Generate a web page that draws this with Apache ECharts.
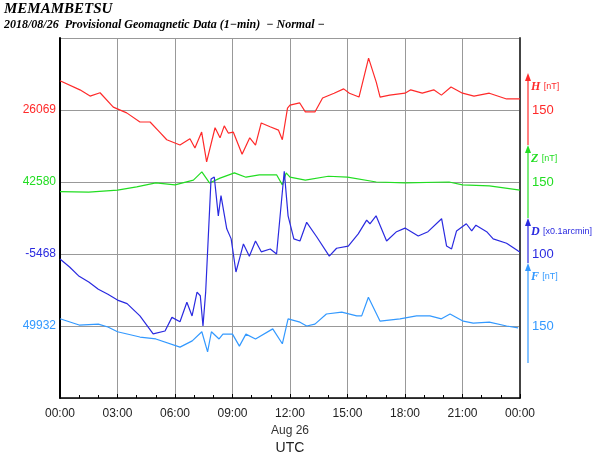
<!DOCTYPE html>
<html>
<head>
<meta charset="utf-8">
<script src="https://cdn.jsdelivr.net/npm/echarts@6/dist/echarts.min.js"></script>
<style>
  html, body { margin: 0; padding: 0; background: #fff; }
  #main { width: 600px; height: 457px; }
</style>
</head>
<body>
<div id="main"></div>
<script>
// hours UTC, deviation from baseline (nT, D in 0.1 arcmin)
var hData = [[0,61],[1.04,42],[1.57,29],[2.09,36],[2.78,6],[3.48,-6],[4.17,-25],[4.7,-25],[5.2,-46],[5.57,-62],[6.26,-73],[6.78,-60],[7.04,-79],[7.39,-46],[7.65,-108],[8.09,-37],[8.35,-58],[8.57,-33],[8.78,-48],[9.04,-46],[9.5,-92],[9.9,-58],[10.2,-73],[10.5,-27],[10.96,-35],[11.4,-42],[11.6,-62],[11.87,4],[12,10],[12.5,15],[12.8,-4],[13.3,-4],[13.7,25],[14.3,35],[14.8,44],[15.1,35],[15.6,27],[16.1,108],[16.5,58],[16.7,27],[17.2,31],[18,35],[18.3,42],[18.9,35],[19.5,42],[19.9,31],[20.4,48],[21,35],[21.6,29],[22.4,35],[23.3,23],[24,23]];
var zData = [[0,-20],[1.5,-21],[3,-17],[4,-10],[5,-2],[6,-6],[6.96,4],[7.4,21],[7.8,-2],[8.35,8],[9.1,19],[9.7,10],[10.4,15],[11.3,15],[11.6,-6],[11.8,19],[12,10],[12.8,4],[14,12],[15,10],[16.5,0],[18,-2],[20.3,0],[21,-6],[22.4,-8],[24,-17]];
var dData = [[0,-7],[0.5,-18],[1,-31],[1.5,-39],[2,-49],[2.5,-56],[3,-64],[3.5,-69],[4.17,-86],[4.86,-111],[5.48,-107],[5.84,-88],[6.26,-94],[6.62,-67],[6.89,-86],[7.15,-53],[7.32,-58],[7.46,-100],[7.6,-53],[7.88,104],[8.05,107],[8.26,53],[8.4,81],[8.7,35],[8.93,21],[9.18,-25],[9.36,-7],[9.57,14],[9.88,-3],[10.2,18],[10.5,3],[10.97,7],[11.3,0],[11.7,115],[11.9,53],[12.2,21],[12.52,18],[12.87,44],[13.39,24],[14.05,-3],[14.43,8],[15.04,11],[15.56,28],[16.0,47],[16.17,42],[16.49,53],[17.04,18],[17.56,31],[18,36],[18.69,25],[19.2,31],[19.91,49],[20.17,11],[20.43,7],[20.69,32],[21.2,42],[21.48,32],[21.7,40],[22.26,31],[22.6,21],[23.3,15],[23.91,4],[24,3]];
var fData = [[0,15],[1,2],[2,4],[2.5,-2],[3,-12],[4.17,-23],[5,-27],[6.26,-44],[6.9,-31],[7.4,-12],[7.7,-54],[7.9,-12],[8.3,-27],[8.5,-17],[9,-17],[9.36,-42],[9.7,-17],[10.2,-27],[11.1,-6],[11.6,-37],[11.9,15],[12.52,8],[12.87,0],[13.3,4],[13.9,25],[14.7,29],[15.48,21],[15.74,21],[16.09,60],[16.7,10],[17.74,15],[18.6,21],[19.3,21],[19.9,15],[20.35,25],[21.04,10],[21.56,6],[22.4,8],[23.3,0],[23.9,-4]];

var baseLabels = ['', '49932', '-5468', '42580', '26069', ''];
var scaleLabels = ['', '150', '100', '150', '150', ''];
var bandColors = ['#000', '#3399ff', '#2a2ae0', '#22dd22', '#ff2a2a', '#000'];
var bandScale = [1, 150, 100, 150, 150, 1];
var xTicks = ['00:00','03:00','06:00','09:00','12:00','15:00','18:00','21:00','00:00'];

function place(data, level) {
  return data.map(function (p) { return [p[0], level + p[1] / bandScale[level]]; });
}
function line(name, data, level) {
  return {
    name: name, type: 'line', showSymbol: false, animation: false,
    data: place(data, level),
    lineStyle: { color: bandColors[level], width: 1.2 }
  };
}
function rich() {
  var r = {};
  bandColors.forEach(function (c, i) { r['c' + i] = { color: c, fontSize: 12, fontFamily: 'Liberation Sans' }; });
  return r;
}

var chart = echarts.init(document.getElementById('main'));
var sans = 'Liberation Sans';
var serif = 'Liberation Serif';
var arrows = [[73, 145, 4], [145, 218, 3], [218, 263, 2], [263, 363, 1]];
var graphics = [
  { type: 'text', left: 4, top: 2, style: { text: 'MEMAMBETSU', font: 'italic bold 15px "Liberation Serif"', fill: '#000' } },
  { type: 'text', left: 4, top: 19, style: { text: '2018/08/26  Provisional Geomagnetic Data (1\u2212min)  \u2212 Normal \u2212', font: 'italic bold 12px "Liberation Serif"', fill: '#000' } },
  { type: 'text', x: 290, y: 425, style: { text: 'Aug 26', font: '12px "Liberation Sans"', fill: '#333', align: 'center' } },
  { type: 'text', x: 290, y: 441, style: { text: 'UTC', font: '14px "Liberation Sans"', fill: '#222', align: 'center' } }
];
var names = { 4: 'H', 3: 'Z', 2: 'D', 1: 'F' };
var units = { 4: '[nT]', 3: '[nT]', 2: '[x0.1arcmin]', 1: '[nT]' };
arrows.forEach(function (a) {
  var c = bandColors[a[2]];
  graphics.push({ type: 'line', shape: { x1: 528, y1: a[1], x2: 528, y2: a[0] + 4 }, style: { stroke: c, lineWidth: 1.2 } });
  graphics.push({ type: 'polygon', shape: { points: [[528, a[0]], [525, a[0] + 8], [531, a[0] + 8]] }, style: { fill: c } });
  graphics.push({ type: 'text', x: 531, y: a[0] + 8, style: {
    text: '{n|' + names[a[2]] + '} {u|' + units[a[2]] + '}',
    rich: {
      n: { font: 'italic bold 12px "Liberation Serif"', fill: c },
      u: { font: '9px "Liberation Sans"', fill: c }
    }
  } });
});

chart.setOption({
  backgroundColor: '#fff',
  animation: false,
  grid: { left: 60, right: 80, top: 38, bottom: 59 },
  graphic: graphics,
  xAxis: {
    type: 'value', min: 0, max: 24, interval: 3,
    axisLine: { show: true, lineStyle: { color: '#000', width: 1.5 } },
    axisTick: { show: true, inside: true, length: 4, lineStyle: { color: '#000' } },
    minorTick: { show: true, splitNumber: 3, length: 3, lineStyle: { color: '#000' } },
    axisLabel: { color: '#222', fontSize: 12, fontFamily: sans, margin: 10,
      formatter: function (v) { return xTicks[Math.round(v / 3)]; } },
    splitLine: { show: true, lineStyle: { color: '#999', width: 1 } }
  },
  yAxis: [{
    type: 'value', min: 0, max: 5, interval: 1, position: 'left',
    axisLine: { show: true, lineStyle: { color: '#000', width: 2 } },
    axisTick: { show: false },
    axisLabel: { margin: 4, rich: rich(),
      formatter: function (v) { return baseLabels[v] ? '{c' + v + '|' + baseLabels[v] + '}' : ''; } },
    splitLine: { show: true, lineStyle: { color: '#999', width: 1 } }
  }, {
    type: 'value', min: 0, max: 5, interval: 1, position: 'right',
    axisLine: { show: true, lineStyle: { color: '#444', width: 2 } },
    axisTick: { show: false },
    axisLabel: { margin: 12, rich: (function () { var r = rich(); for (var k in r) r[k].fontSize = 13; return r; })(),
      formatter: function (v) { return scaleLabels[v] ? '{c' + v + '|' + scaleLabels[v] + '}' : ''; } },
    splitLine: { show: false }
  }],
  series: [
    line('H', hData, 4),
    line('Z', zData, 3),
    line('D', dData, 2),
    line('F', fData, 1)
  ]
});
</script>
</body>
</html>
